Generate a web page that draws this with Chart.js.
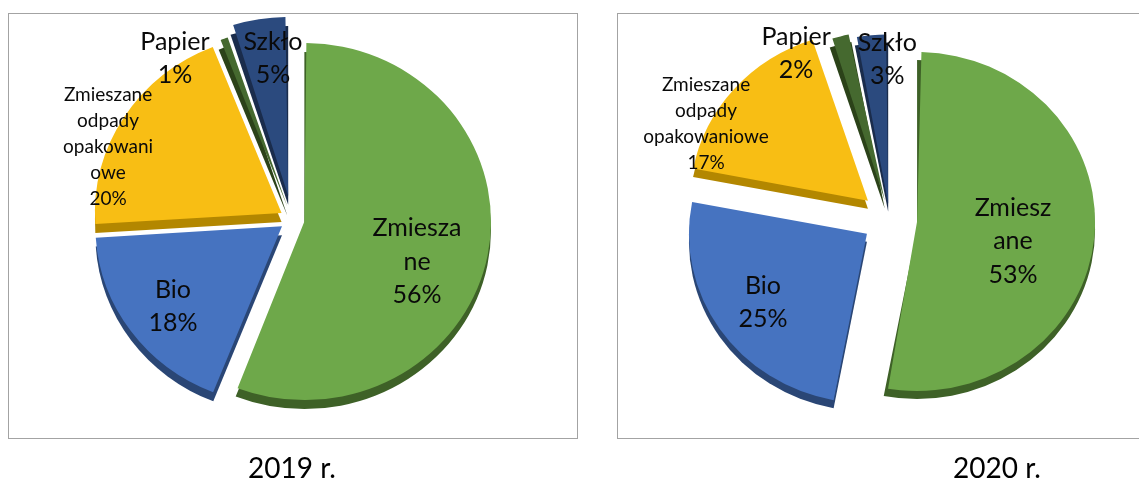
<!DOCTYPE html>
<html><head><meta charset="utf-8">
<script src="https://cdn.jsdelivr.net/npm/chart.js@4.4.1/dist/chart.umd.min.js"></script>
<style>
html,body{margin:0;padding:0;background:#fff;width:1139px;height:480px;overflow:hidden;position:relative;font-family:Lato,sans-serif}
.box{position:absolute;border:1px solid #a3a3a3;box-sizing:border-box}
#box1{left:8px;top:13px;width:570px;height:426px}
#box2{left:617px;top:13px;width:600px;height:426px}
canvas{position:absolute;left:0;top:0}
.cap{position:absolute;top:450px;font:28px Lato,sans-serif;line-height:34px;color:#000;transform:translateX(-50%);white-space:nowrap}
</style></head><body>
<div class="box" id="box1"></div><div class="box" id="box2"></div>
<canvas id="c1" width="1139" height="480"></canvas>
<canvas id="c2" width="1139" height="480"></canvas>
<div class="cap" id="cap1" style="left:292px"></div>
<div class="cap" id="cap2" style="left:997px"></div>
<script>
// ---- data ----
const categories = ['Zmieszane', 'Bio', 'Zmieszane odpady opakowaniowe', 'Papier', 'Szkło'];
const values2019 = [56, 18, 20, 1, 5];
const values2020 = [53, 25, 17, 2, 3];
const labelLines2019 = [['Zmiesza', 'ne'], ['Bio'], ['Zmieszane', 'odpady', 'opakowani', 'owe'], ['Papier'], ['Szkło']];
const labelLines2020 = [['Zmiesz', 'ane'], ['Bio'], ['Zmieszane', 'odpady', 'opakowaniowe'], ['Papier'], ['Szkło']];
const captions = ['2019 r.', '2020 r.'];

// ---- styles ----
const faceColors = ['#6EA84A', '#4673C0', '#F8BE14', '#45692F', '#2B4A7E'];
const sideColors = ['#3E6127', '#2A4675', '#B38700', '#2B4219', '#1A2C4C'];
const labelSizes = [25, 25, 19, 25, 25];
const labelLineHeights = [33.5, 33.5, 26, 33, 33];

const W = 1139, H = 480, S = 150;

const pie3d = {
  id: 'pie3d',
  afterDatasetUpdate(chart, args, o) {
    const meta = chart.getDatasetMeta(0);
    meta.data.forEach(arc => {
      const t = (arc.options.offset || 0) / 4;
      const c = arc.endAngle - arc.startAngle;
      const fix = 1 - Math.sin(Math.min(Math.PI, c));
      arc.outerRadius = o.R - t * fix;
    });
  },
  beforeDatasetsDraw(chart, args, o) {
    const ctx = chart.ctx, meta = chart.getDatasetMeta(0);
    const cy = meta.data[0].y;
    ctx.save();
    ctx.save();
    ctx.translate(0, cy + o.depth); ctx.scale(1, o.k); ctx.translate(0, -cy);
    meta.data.forEach((arc, i) => {
      const t = (arc.options.offset || 0) / 4;
      const mid = (arc.startAngle + arc.endAngle) / 2;
      const x = arc.x + Math.cos(mid) * t, y = arc.y + Math.sin(mid) * t;
      ctx.beginPath(); ctx.moveTo(x, y);
      ctx.arc(x, y, o.R, arc.startAngle, arc.endAngle);
      ctx.closePath();
      ctx.fillStyle = sideColors[i]; ctx.fill();
    });
    ctx.restore();
    ctx.translate(0, cy); ctx.scale(1, o.k); ctx.translate(0, -cy);
  },
  afterDatasetsDraw(chart) { chart.ctx.restore(); },
  afterDraw(chart, args, o) {
    const ctx = chart.ctx, meta = chart.getDatasetMeta(0);
    const data = chart.data.datasets[0].data;
    const total = data.reduce((a, b) => a + b, 0);
    ctx.save();
    ctx.fillStyle = '#0a0a0a';
    ctx.textAlign = 'center'; ctx.textBaseline = 'middle';
    meta.data.forEach((arc, i) => {
      const ang = (arc.startAngle + arc.endAngle) / 2 + o.place[i][1] * Math.PI / 180;
      const r = o.place[i][0] * o.R;
      const x = arc.x + Math.cos(ang) * r, y = arc.y + Math.sin(ang) * r * o.k;
      const lines = o.lines[i].concat([Math.round(data[i] / total * 100) + '%']);
      const lh = labelLineHeights[i];
      ctx.font = labelSizes[i] + 'px Lato, sans-serif';
      lines.forEach((s, j) => ctx.fillText(s, x, y + (j - (lines.length - 1) / 2) * lh));
    });
    ctx.restore();
  }
};

function makeChart(id, values, lines, g) {
  return new Chart(document.getElementById(id), {
    type: 'pie',
    data: { labels: categories, datasets: [{ data: values, backgroundColor: faceColors, borderWidth: 0, offset: g.offsets }] },
    options: {
      responsive: false, animation: false, radius: g.R,
      layout: { padding: { left: g.cx - S, right: W - g.cx - S, top: g.cy - S, bottom: H - g.cy - S } },
      plugins: { legend: { display: false }, tooltip: { enabled: false },
        pie3d: { R: g.R, k: g.k, depth: g.depth, place: g.place, lines: lines } },
      events: []
    },
    plugins: [pie3d]
  });
}

makeChart('c1', values2019, labelLines2019, {
  cx: 292.1, cy: 219.3, R: 186.6, k: 0.957, depth: 9,
  offsets: [50, 50, 50, 56, 100],
  place: [[0.710, 8.65], [0.804, -1.4], [1.066, -10.1], [1.097, -15.1], [0.906, 2.5]]
});
makeChart('c2', values2020, labelLines2020, {
  cx: 889.7, cy: 219, R: 178, k: 0.952, depth: 8,
  offsets: [110, 110, 116, 80, 64],
  place: [[0.705, 5.4], [0.866, -0.5], [1.174, -12.9], [1.109, -13.9], [0.941, 4.6]]
});
document.getElementById('cap1').textContent = captions[0];
document.getElementById('cap2').textContent = captions[1];
</script>
</body></html>
